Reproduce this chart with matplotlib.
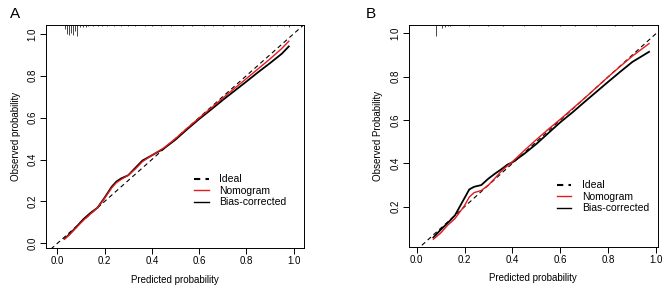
import matplotlib
matplotlib.use("Agg")
import matplotlib.pyplot as plt
from matplotlib.lines import Line2D

plt.rcParams['font.family'] = ['Liberation Sans', 'DejaVu Sans']
plt.rcParams['font.size'] = 7

# Panel A - calibration curves
a_x = [0.03, 0.05, 0.08, 0.11, 0.14, 0.17, 0.20, 0.23, 0.25, 0.27, 0.30, 0.33,
       0.36, 0.40, 0.45, 0.50, 0.55, 0.60, 0.65, 0.70, 0.75, 0.80, 0.85, 0.90, 0.95, 0.98]
a_nomo = [0.020, 0.040, 0.075, 0.110, 0.140, 0.170, 0.215, 0.265, 0.290, 0.305, 0.325, 0.355,
          0.390, 0.420, 0.455, 0.500, 0.550, 0.598, 0.645, 0.693, 0.740, 0.786, 0.833, 0.880, 0.930, 0.965]
a_bias = [0.022, 0.042, 0.078, 0.115, 0.145, 0.170, 0.218, 0.270, 0.295, 0.310, 0.325, 0.360,
          0.395, 0.420, 0.452, 0.495, 0.545, 0.593, 0.638, 0.684, 0.728, 0.772, 0.817, 0.860, 0.905, 0.940]

# Panel A - distribution of predictions (top rug)
a_rug_x = [0.033, 0.041, 0.049, 0.058, 0.065, 0.075, 0.084, 0.095, 0.11, 0.12, 0.13, 0.15,
           0.17, 0.19, 0.21, 0.24, 0.27, 0.30, 0.33, 0.37, 0.40, 0.44, 0.48, 0.53, 0.57,
           0.62, 0.66, 0.70, 0.75, 0.78, 0.82, 0.86, 0.90, 0.93, 0.96, 0.98]
a_rug_h = [0.020, 0.045, 0.050, 0.040, 0.050, 0.030, 0.055, 0.012, 0.010, 0.008, 0.007, 0.006,
           0.006, 0.005, 0.006, 0.005, 0.005, 0.004, 0.005, 0.004, 0.005, 0.004, 0.004, 0.004, 0.005,
           0.004, 0.004, 0.005, 0.004, 0.004, 0.005, 0.005, 0.006, 0.005, 0.006, 0.008]

# Panel B - calibration curves
b_x = [0.07, 0.10, 0.13, 0.16, 0.18, 0.20, 0.22, 0.24, 0.27, 0.30, 0.33, 0.35, 0.38,
       0.40, 0.45, 0.50, 0.55, 0.60, 0.65, 0.70, 0.75, 0.80, 0.85, 0.90, 0.97]
b_nomo = [0.050, 0.078, 0.115, 0.145, 0.175, 0.205, 0.245, 0.265, 0.275, 0.300, 0.335, 0.360, 0.390,
          0.408, 0.460, 0.510, 0.558, 0.604, 0.652, 0.700, 0.750, 0.800, 0.848, 0.895, 0.953]
b_bias = [0.058, 0.093, 0.125, 0.160, 0.200, 0.240, 0.280, 0.292, 0.300, 0.330, 0.355, 0.370, 0.395,
          0.405, 0.445, 0.490, 0.540, 0.590, 0.635, 0.683, 0.730, 0.777, 0.823, 0.868, 0.915]

# Panel B - distribution of predictions (top rug)
b_rug_x = [0.082, 0.107, 0.12, 0.13, 0.14, 0.22, 0.30, 0.36, 0.45, 0.52, 0.60, 0.66, 0.75, 0.83, 0.90]
b_rug_h = [0.050, 0.015, 0.007, 0.006, 0.006, 0.003, 0.003, 0.003, 0.003, 0.003, 0.003, 0.003, 0.003, 0.003, 0.003]

ticks = [0.0, 0.2, 0.4, 0.6, 0.8, 1.0]

fig = plt.figure(figsize=(6.67, 2.86), dpi=100)
axA = fig.add_axes([0.069, 0.133, 0.387, 0.780])
axB = fig.add_axes([0.6127, 0.137, 0.3733, 0.775])

paneles = [
    (axA, a_x, a_nomo, a_bias, a_rug_x, a_rug_h, (-0.048, 1.045), (-0.022, 1.043),
     ticks, "Observed probability", 0.575, 0.33),
    (axB, b_x, b_nomo, b_bias, b_rug_x, b_rug_h, (-0.033, 1.006), (0.015, 1.038),
     ticks[1:], "Observed Probability", 0.595, 0.30),
]

for ax, x, nomo, bias, rx, rh, xl, yl, yt, ylab, lx, ly in paneles:
    ax.set_xlim(*xl)
    ax.set_ylim(*yl)
    ax.plot([-0.2, 1.2], [-0.2, 1.2], color='black', lw=0.8, dashes=(4, 3))
    ax.plot(x, bias, color='black', lw=1.3)
    ax.plot(x, nomo, color='#e41a1c', lw=1.0)
    top = yl[1]
    ax.vlines(rx, [top - h for h in rh], top, color='#444444', lw=0.7)
    ax.set_xticks(ticks)
    ax.set_xticklabels([f"{t:.1f}" for t in ticks])
    ax.set_yticks(yt)
    ax.set_yticklabels([f"{t:.1f}" for t in yt], rotation=90, va='center')
    ax.tick_params(direction='out', length=4, width=0.7, pad=2)
    for s in ax.spines.values():
        s.set_linewidth(0.7)
    ax.set_xlabel("Predicted probability", labelpad=6)
    ax.set_ylabel(ylab, labelpad=5)
    handles = [Line2D([], [], color='black', lw=1.5, dashes=(3, 2.5)),
               Line2D([], [], color='#e41a1c', lw=1.0),
               Line2D([], [], color='black', lw=1.0)]
    ax.legend(handles, ["Ideal", "Nomogram", "Bias-corrected"], loc='upper left',
              bbox_to_anchor=(lx, ly), frameon=False, handlelength=1.4,
              handletextpad=1.0, labelspacing=0.15, borderaxespad=0, borderpad=0,
              fontsize=7.5)

fig.text(0.015, 0.975, "A", fontsize=11, va='top')
fig.text(0.548, 0.975, "B", fontsize=11, va='top')

fig.savefig("out.png", dpi=100)
